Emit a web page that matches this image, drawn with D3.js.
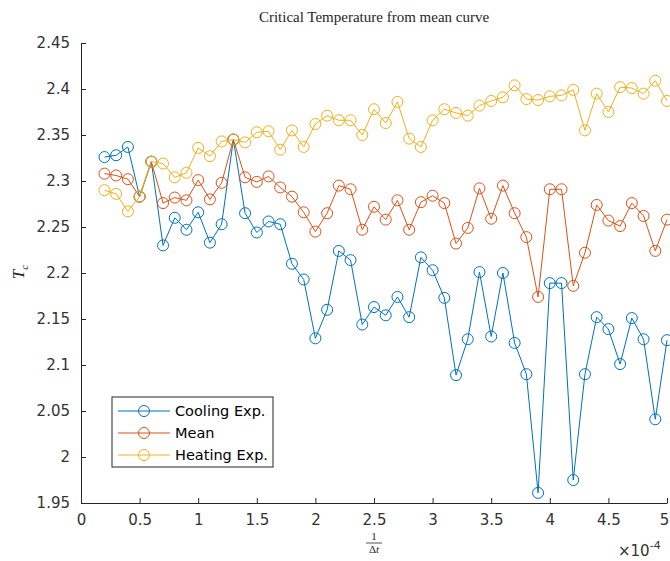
<!DOCTYPE html>
<html lang="en">
<head>
    <meta charset="UTF-8">
    <title>Critical Temperature from mean curve</title>
    <script src="https://d3js.org/d3.v7.min.js"></script>
    <style>
        html, body {
            margin: 0;
            padding: 0;
            background-color: #ffffff;
        }
        #canvas {
            display: block;
        }
        .tick text {
            font-family: "DejaVu Sans", "Liberation Sans", Arial, sans-serif;
            font-size: 15px;
            fill: #333333;
        }
        .serif {
            font-family: "Liberation Serif", "DejaVu Serif", serif;
            fill: #262626;
        }
    </style>
</head>
<body>
    <svg id='canvas' width='670' height='561'></svg>

<script>
// x values are in units of 1e-4
let xValues = [0.2, 0.3, 0.4, 0.5, 0.6, 0.7, 0.8, 0.9, 1.0, 1.1, 1.2, 1.3, 1.4, 1.5, 1.6, 1.7,
    1.8, 1.9, 2.0, 2.1, 2.2, 2.3, 2.4, 2.5, 2.6, 2.7, 2.8, 2.9, 3.0, 3.1, 3.2, 3.3, 3.4, 3.5,
    3.6, 3.7, 3.8, 3.9, 4.0, 4.1, 4.2, 4.3, 4.4, 4.5, 4.6, 4.7, 4.8, 4.9, 5.0]

let coolingValues = [2.326, 2.328, 2.337, 2.283, 2.321, 2.230, 2.260, 2.247, 2.266, 2.233, 2.253, 2.345,
    2.265, 2.244, 2.256, 2.253, 2.210, 2.193, 2.129, 2.160, 2.224, 2.214, 2.144, 2.163, 2.154, 2.174,
    2.152, 2.217, 2.203, 2.173, 2.089, 2.128, 2.201, 2.131, 2.200, 2.124, 2.090, 1.961, 2.189, 2.189,
    1.975, 2.090, 2.152, 2.139, 2.101, 2.151, 2.128, 2.041, 2.127]

let meanValues = [2.308, 2.306, 2.302, 2.283, 2.321, 2.276, 2.282, 2.279, 2.301, 2.280, 2.298, 2.345,
    2.304, 2.299, 2.305, 2.293, 2.283, 2.266, 2.245, 2.265, 2.295, 2.291, 2.247, 2.272, 2.258, 2.279,
    2.247, 2.277, 2.284, 2.276, 2.232, 2.249, 2.292, 2.259, 2.295, 2.265, 2.239, 2.174, 2.291, 2.291,
    2.186, 2.222, 2.274, 2.257, 2.251, 2.276, 2.262, 2.224, 2.258]

let heatingValues = [2.290, 2.286, 2.267, 2.283, 2.321, 2.319, 2.304, 2.309, 2.336, 2.327, 2.343, 2.345,
    2.342, 2.353, 2.354, 2.334, 2.355, 2.337, 2.362, 2.371, 2.366, 2.366, 2.350, 2.378, 2.363, 2.386,
    2.346, 2.337, 2.366, 2.378, 2.374, 2.371, 2.382, 2.387, 2.391, 2.404, 2.389, 2.388, 2.392, 2.393,
    2.399, 2.355, 2.395, 2.375, 2.402, 2.401, 2.395, 2.409, 2.387]

let seriesNames = ['Cooling Exp.', 'Mean', 'Heating Exp.']
let seriesColors = ['#0072BD', '#D95319', '#EDB120']

let xTicks = [0, 0.5, 1, 1.5, 2, 2.5, 3, 3.5, 4, 4.5, 5]
let yTicks = [1.95, 2, 2.05, 2.1, 2.15, 2.2, 2.25, 2.3, 2.35, 2.4, 2.45]

let canvas = d3.select('#canvas')

let plotLeft = 81
let plotRight = 667
let plotTop = 43
let plotBottom = 503

let xScale = d3.scaleLinear().domain([0, 5]).range([plotLeft, plotRight])
let yScale = d3.scaleLinear().domain([1.95, 2.45]).range([plotBottom, plotTop])

let drawAxes = () => {
    let xAxis = d3.axisBottom(xScale)
        .tickValues(xTicks)
        .tickFormat(d3.format('~g'))
        .tickSizeInner(-5)
        .tickSizeOuter(0)
        .tickPadding(11)

    let yAxis = d3.axisLeft(yScale)
        .tickValues(yTicks)
        .tickFormat(d3.format('~g'))
        .tickSizeInner(-5)
        .tickSizeOuter(0)
        .tickPadding(11)

    let gx = canvas.append('g')
        .attr('transform', 'translate(0,' + plotBottom + ')')
        .call(xAxis)
    let gy = canvas.append('g')
        .attr('transform', 'translate(' + plotLeft + ',0)')
        .call(yAxis)

    canvas.selectAll('.domain').attr('stroke', '#262626')
    canvas.selectAll('.tick line').attr('stroke', '#262626')
    gx.selectAll('.tick text').attr('dy', '0.71em')
    // last label sits on the window edge, nudge it in
    gx.selectAll('.tick text').filter((d) => d === 5).attr('dx', -3)
}

let drawLines = () => {
    let allSeries = [coolingValues, meanValues, heatingValues]

    let line = d3.line()
        .x((d, i) => xScale(xValues[i]))
        .y((d) => yScale(d))

    allSeries.forEach((values, s) => {
        let g = canvas.append('g')
        g.append('path')
            .datum(values)
            .attr('d', line)
            .attr('fill', 'none')
            .attr('stroke', seriesColors[s])
            .attr('stroke-width', 1)

        g.selectAll('circle')
            .data(values)
            .enter()
            .append('circle')
            .attr('cx', (d, i) => xScale(xValues[i]))
            .attr('cy', (d) => yScale(d))
            .attr('r', 5.5)
            .attr('fill', 'none')
            .attr('stroke', seriesColors[s])
            .attr('stroke-width', 1)
    })
}

let drawLegend = () => {
    let lx = 112
    let ly = 397
    let legend = canvas.append('g')
    legend.append('rect')
        .attr('x', lx)
        .attr('y', ly)
        .attr('width', 161)
        .attr('height', 70)
        .attr('fill', '#ffffff')
        .attr('stroke', '#262626')
        .attr('stroke-width', 1)

    seriesNames.forEach((name, i) => {
        let cy = ly + 14 + i * 22
        legend.append('line')
            .attr('x1', lx + 6)
            .attr('x2', lx + 58)
            .attr('y1', cy)
            .attr('y2', cy)
            .attr('stroke', seriesColors[i])
            .attr('stroke-width', 1)
        legend.append('circle')
            .attr('cx', lx + 32)
            .attr('cy', cy)
            .attr('r', 5.5)
            .attr('fill', 'none')
            .attr('stroke', seriesColors[i])
        legend.append('text')
            .attr('x', lx + 63)
            .attr('y', cy)
            .attr('dy', '0.35em')
            .style('font-family', '"DejaVu Sans", "Liberation Sans", Arial, sans-serif')
            .style('font-size', '14.5px')
            .attr('fill', '#000000')
            .text(name)
    })
}

let drawLabels = () => {
    canvas.append('text')
        .attr('class', 'serif')
        .attr('x', (plotLeft + plotRight) / 2)
        .attr('y', 22)
        .attr('text-anchor', 'middle')
        .style('font-size', '15px')
        .attr('fill', '#000000')
        .text('Critical Temperature from mean curve')

    // y label T_c
    let yl = canvas.append('text')
        .attr('class', 'serif')
        .attr('transform', 'translate(24,272) rotate(-90)')
        .attr('text-anchor', 'middle')
        .style('font-size', '17px')
        .style('font-style', 'italic')
    yl.append('tspan').text('T')
    yl.append('tspan').attr('dy', 4).style('font-size', '11px').text('c')

    // x label 1 / Δt
    let fx = (plotLeft + plotRight) / 2
    canvas.append('text')
        .attr('class', 'serif')
        .attr('x', fx)
        .attr('y', 540)
        .attr('text-anchor', 'middle')
        .style('font-size', '11px')
        .text('1')
    canvas.append('line')
        .attr('x1', fx - 8)
        .attr('x2', fx + 8)
        .attr('y1', 543)
        .attr('y2', 543)
        .attr('stroke', '#262626')
        .attr('stroke-width', 0.8)
    let den = canvas.append('text')
        .attr('class', 'serif')
        .attr('x', fx)
        .attr('y', 553)
        .attr('text-anchor', 'middle')
        .style('font-size', '11px')
    den.append('tspan').text('Δ')
    den.append('tspan').style('font-style', 'italic').text('t')

    // exponent
    let ex = canvas.append('text')
        .attr('x', 618)
        .attr('y', 556)
        .style('font-family', '"DejaVu Sans", "Liberation Sans", Arial, sans-serif')
        .style('font-size', '15px')
        .attr('fill', '#333333')
    ex.append('tspan').text('×10')
    ex.append('tspan').attr('dy', -7).style('font-size', '11px').text('-4')
}

drawAxes()
drawLines()
drawLegend()
drawLabels()
</script>
</body>
</html>
